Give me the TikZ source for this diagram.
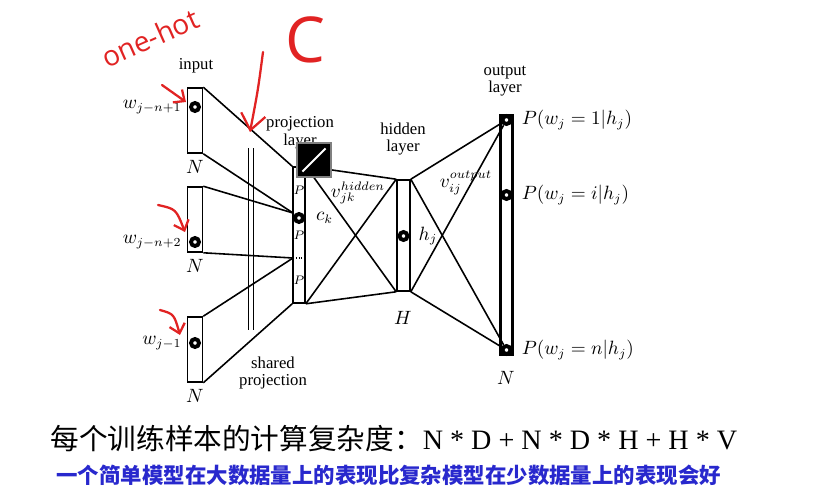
\documentclass[tikz,border=0pt]{standalone}
\usepackage{fontspec}
\setmainfont{Liberation Serif}
\newfontfamily\cjk{Noto Sans CJK SC}
\newfontfamily\hand{Open Sans}
\usetikzlibrary{arrows.meta,positioning}
\definecolor{notered}{RGB}{225,35,35}
\definecolor{noteblue}{RGB}{40,40,205}
\begin{document}
\begin{tikzpicture}[
	x = 0.02cm, y = -0.02cm, % pixel grid, y pointing down
	semithick, % line style
	node distance = 1pt,
	font=\fontsize{9.5}{11}\selectfont
	]
	
	\tikzstyle{layer}=[
	draw = black,
	line width = 0.9pt,
	fill = white,
	inner sep = 0pt
	]
	\tikzstyle{unit}=[circle, draw=black, fill=white, line width=2.2pt, minimum size=0.16cm, inner sep=0pt]
	\tikzstyle{mlabel}=[font=\fontsize{10.5}{12}\selectfont, inner sep=1pt]
	\tikzstyle{note}=[draw=notered, line width=1.3pt, line cap=round, -{Straight Barb[length=5pt,width=9pt]}]
	
	\useasboundingbox (0,0) rectangle (818,487);
	
	% layers
	\node[layer, minimum width=0.3cm, minimum height=1.3cm] (in1) at (195,120.5) {};
	\node[layer, minimum width=0.3cm, minimum height=1.3cm] (in2) at (195,219.5) {};
	\node[layer, minimum width=0.3cm, minimum height=1.3cm] (in3) at (195,349.5) {};
	\node[layer, minimum width=0.24cm, minimum height=2.72cm] (proj) at (299,235) {};
	\node[layer, minimum width=0.26cm, minimum height=2.22cm] (hid) at (403.5,235.5) {};
	\node[layer, line width=1.4pt, minimum width=0.24cm, minimum height=4.78cm] (out) at (506.5,235) {};
	
	\coordinate (p1) at (293,213);
	\coordinate (p2) at (293,258);
	
	% texts
	\node (tin) at (196,66) {input};
	\node[align=center] (tproj) at (300,133) {projection\\[-1pt]layer};
	\node[align=center] (thid) at (403,139) {hidden\\[-1pt]layer};
	\node[align=center] (tout) at (505,81) {output\\[-1pt]layer};
	\node[align=center] (tshared) at (273,373) {shared\\[-1pt]projection};
	
	% input -> projection
	\path[line width=0.9pt]
	(in1.north east) edge (proj.north west)
	(in1.south east) edge (p1)
	(in2.north east) edge (p1)
	(in2.south east) edge (p2)
	(in3.north east) edge (p2)
	(in3.south east) edge (proj.south west);
	\draw[densely dotted] (p2) -- (p2 -| proj.east);
	\draw[thin] (248,148) -- (248,330);
	\draw[thin] (253,148) -- (253,330);
	
	% projection -> hidden -> output
	\path[line width=0.9pt]
	(proj.north east) edge (hid.north west)
	edge (hid.south west)
	(proj.south east) edge (hid.north west)
	edge (hid.south west);
	
	\node[unit] (o1) at (506.5,120) {};
	\node[unit] (oi) at (506.5,195) {};
	\node[unit] (on) at (506.5,350) {};
	\path[line width=0.9pt]
	(hid.north east) edge (o1)
	edge (on)
	(hid.south east) edge (o1)
	edge (on);
	
	% shared matrix C
	\node[draw=gray, fill=black, minimum size=0.68cm, inner sep=0pt] (mat) at (314,160) {};
	\draw[white, line width=1.2pt] ([shift={(6,-6)}]mat.south west) -- ([shift={(-6,6)}]mat.north east);
	
	% units
	\node[unit] (u1) at (195,107) {};
	\node[unit] (u2) at (195,242) {};
	\node[unit] (u3) at (195,343) {};
	\node[unit] (ck) at (299,218) {};
	\node[unit] (hj) at (403.5,236) {};
	
	% math labels
	\node[mlabel, left=3pt of u1] (lw1) {$w_{j-n+1}$};
	\node[mlabel, left=3pt of u2] (lw2) {$w_{j-n+2}$};
	\node[mlabel, left=3pt of u3] (lw3) {$w_{j-1}$};
	\node[mlabel] (n1) at (195,167) {$N$};
	\node[mlabel] (n2) at (195,266) {$N$};
	\node[mlabel] (n3) at (195,396) {$N$};
	\node[mlabel, font=\scriptsize] (pa) at (299,190) {$P$};
	\node[mlabel, font=\scriptsize] (pb) at (299,235) {$P$};
	\node[mlabel, font=\scriptsize] (pc) at (299,280) {$P$};
	\node[mlabel, right=5pt of ck] (lck) {$c_k$};
	\node[mlabel] (lvh) at (358,193) {$v_{jk}^{hidden}$};
	\node[mlabel, right=4pt of hj] (lhj) {$h_j$};
	\node[mlabel] (lH) at (403,318) {$H$};
	\node[mlabel] (lvo) at (466,183) {$v_{ij}^{output}$};
	\node[mlabel, right=4pt of o1] (lo1) {$P(w_j=1|h_j)$};
	\node[mlabel, right=4pt of oi] (loi) {$P(w_j=i|h_j)$};
	\node[mlabel, right=4pt of on] (lon) {$P(w_j=n|h_j)$};
	\node[mlabel] (nout) at (506,378) {$N$};
	
	% handwritten notes
	\node[text=notered, rotate=24, font=\hand\fontsize{16}{16}\selectfont] (onehot) at (150,38) {one-hot};
	\node[text=notered, font=\hand\fontsize{36}{36}\selectfont] (cname) at (305,40) {C};
	\coordinate (a1s) at (162,85);   \coordinate (a1e) at (186,102);
	\coordinate (a2s) at (158,205);  \coordinate (a2e) at (185,232);
	\coordinate (a3s) at (160,310);  \coordinate (a3e) at (180,335);
	\coordinate (a4s) at (263,52);   \coordinate (a4e) at (250,132);
	\draw[note] (a1s) -- (a1e);
	\draw[note] (a2s) .. controls (176,209) .. (a2e);
	\draw[note] (a3s) .. controls (174,314) .. (a3e);
	\draw[note, -{Straight Barb[length=9pt,width=14pt]}] (a4s) .. controls (258,90) .. (a4e);
	
	% complexity
	\node[anchor=west, inner sep=0pt] (cost) at (50,439)
	{{\cjk\fontsize{16.3}{18}\selectfont 每个训练样本的计算复杂度：}{\fontsize{16}{18}\selectfont N * D + N * D * H + H * V}};
	\node[anchor=west, inner sep=0pt, text=noteblue] (remark) at (56,475)
	{\cjk\bfseries\fontsize{12.2}{14}\selectfont 一个简单模型在大数据量上的表现比复杂模型在少数据量上的表现会好};
	
\end{tikzpicture}
\end{document}
